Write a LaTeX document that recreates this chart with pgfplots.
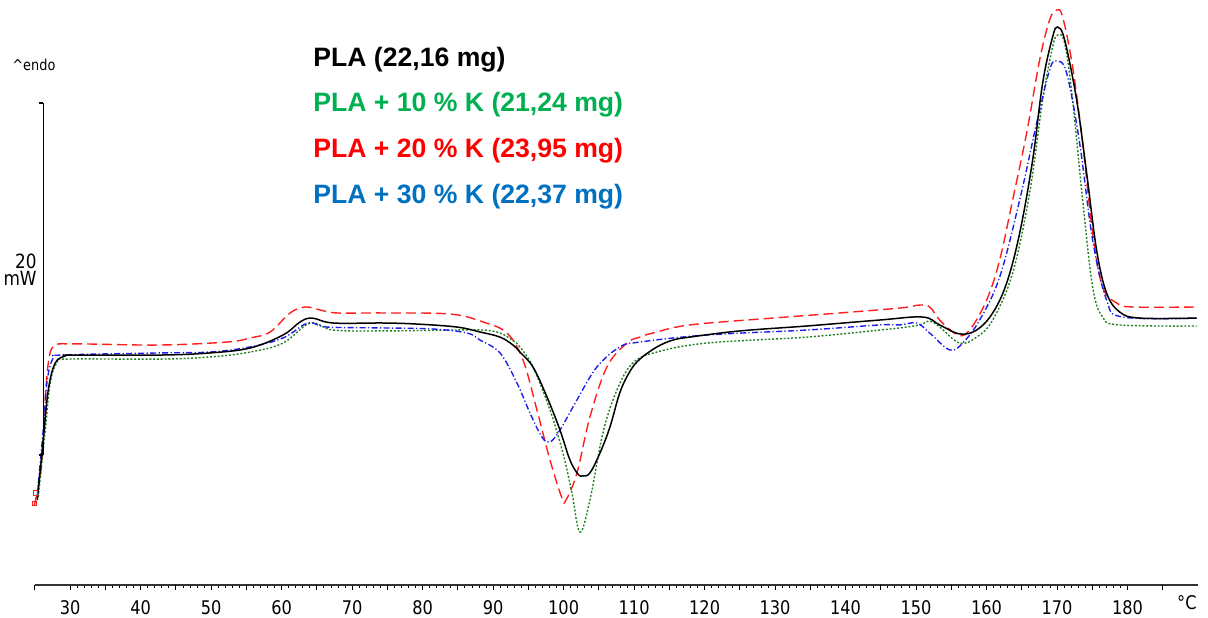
\documentclass[border=0pt]{standalone}
\usepackage{pgfplots}
\pgfplotsset{compat=1.18}
\usepackage{fontspec}
\setmainfont{Liberation Sans}
\newfontfamily\tickfont{DejaVu Sans}[FakeStretch=0.86]
\definecolor{cgreen}{RGB}{34,128,34}
\definecolor{cred}{RGB}{255,30,30}
\definecolor{cblue}{RGB}{30,30,235}
\definecolor{lgreen}{RGB}{0,176,80}
\definecolor{lred}{RGB}{255,0,0}
\definecolor{lblue}{RGB}{0,112,192}
\begin{document}
\begin{tikzpicture}
\useasboundingbox (0,0) rectangle (604pt,308.5pt);
\begin{axis}[
  at={(17.5pt,16pt)}, anchor=south west,
  scale only axis, width=581.5pt, height=290pt,
  xmin=25, xmax=190, ymin=-7.386, ymax=25.568,
  axis x line*=bottom, axis y line=none,
  xtick={30,40,...,180}, minor x tick num=9,
  extra x ticks={25,35,...,185}, extra x tick labels={},
  extra x tick style={major tick length=2.6pt},
  tick align=outside,
  major tick length=2.6pt, minor tick length=1.5pt,
  every tick/.style={black, line width=0.5pt},
  x axis line style={black!80, line width=0.6pt},
  ytick=\empty,
  xticklabel style={font=\tickfont\fontsize{9.4}{11}\selectfont, yshift=-1.6pt},
  /pgf/number format/assume math mode=true,
  clip=false,
]
% red: PLA + 20 % K
\addplot[cred, line width=0.7pt, dash pattern=on 5pt off 2.5pt, smooth, tension=0.6] coordinates {
(24.90,-2.84) (25.46,-1.82) (26.03,-0.11) (26.46,3.30) (27.02,5.57) (27.87,6.25) (30.0,6.31) (32.13,6.31) (42.76,6.25) (52.26,6.42) (55.52,6.65) (58.36,6.99) (61.19,8.07) (63.32,8.41) (65.45,8.24) (67.86,8.07) (74.38,8.07) (83.88,8.01) (88.56,7.56) (91.96,6.93) (94.23,5.40) (96.21,2.56) (98.06,-0.28) (99.76,-2.44) (100.33,-2.56) (101.89,-1.02) (103.73,2.16) (106.14,5.00) (108.97,6.36) (110.82,6.70) (112.66,6.93) (117.91,7.39) (129.67,7.78) (139.17,8.07) (147.68,8.35) (150.52,8.52) (151.94,8.41) (153.35,7.67) (155.91,6.82) (157.60,7.10) (160.02,8.81) (161.86,11.08) (163.70,14.49) (165.69,18.30) (167.53,22.44) (168.95,24.72) (169.94,25.28) (170.79,24.89) (172.21,22.05) (173.63,17.73) (175.05,12.61) (176.46,9.55) (178.45,8.64) (180.72,8.41) (189.79,8.41)
};
\addplot[cred, only marks, mark=square, mark size=1.1pt, line width=0.5pt] coordinates {(24.95,-2.75) (25.05,-2.15)};
% green: PLA + 10 % K
\addplot[cgreen, line width=0.7pt, dash pattern=on 1pt off 0.9pt, smooth, tension=0.6] coordinates {
(25.46,-2.39) (26.46,1.42) (27.16,4.09) (28.16,5.28) (29.72,5.45) (42.76,5.45) (49.85,5.57) (55.52,5.85) (60.20,6.36) (64.03,7.50) (67.29,7.10) (74.38,7.05) (83.88,7.10) (88.56,7.10) (90.97,6.93) (92.81,6.50) (93.80,6.14) (95.65,5.00) (98.06,2.56) (99.90,0.11) (101.18,-2.16) (102.31,-4.38) (103.73,-2.56) (105.57,1.25) (107.56,3.69) (109.82,5.23) (113.23,5.85) (120.32,6.36) (134.50,6.70) (144.85,7.10) (147.68,7.22) (150.52,7.39) (151.94,7.61) (153.35,7.27) (156.19,6.36) (158.60,6.70) (160.87,7.67) (163.70,10.34) (166.11,14.89) (167.96,20.17) (169.37,23.18) (170.08,23.86) (171.08,23.41) (172.21,20.17) (173.63,14.49) (175.05,9.55) (176.46,7.84) (178.87,7.39) (189.79,7.33)
};
% blue: PLA + 30 % K
\addplot[cblue, line width=0.7pt, dash pattern=on 3pt off 1.2pt on 0.6pt off 1.2pt, smooth, tension=0.6] coordinates {
(25.32,-2.27) (26.17,1.42) (26.74,4.26) (27.59,5.51) (28.87,5.68) (42.76,5.80) (49.85,5.85) (55.52,6.14) (60.20,6.65) (63.74,7.50) (66.44,7.27) (74.38,7.22) (81.47,7.16) (86.29,6.93) (88.13,6.53) (90.97,5.80) (93.38,4.09) (95.22,2.39) (96.92,1.02) (98.06,0.74) (99.48,1.42) (101.89,3.13) (104.72,5.00) (107.98,6.14) (110.82,6.42) (120.32,6.82) (134.50,7.10) (144.85,7.39) (147.68,7.39) (150.09,7.50) (151.94,6.93) (154.77,5.97) (156.61,6.36) (159.02,7.67) (161.86,10.11) (164.70,14.49) (167.11,18.86) (168.95,21.88) (169.94,22.39) (171.36,21.70) (173.20,17.73) (175.05,12.22) (177.03,8.81) (179.30,7.84) (189.79,7.78)
};
% black: PLA
\addplot[black, line width=0.75pt, smooth, tension=0.6] coordinates {
(25.32,-2.56) (26.17,0.85) (26.88,3.69) (27.87,5.23) (29.29,5.63) (30,5.68) (42.76,5.68) (49.85,5.80) (55.52,6.08) (60.20,6.82) (62.61,7.56) (64.31,7.78) (67.29,7.50) (74.38,7.50) (79.20,7.44) (84.87,7.27) (88.13,6.99) (90.97,6.70) (92.81,6.25) (93.80,5.85) (95.65,5.00) (97.63,3.30) (99.48,1.42) (100.89,-0.28) (102.03,-1.08) (102.74,-1.19) (103.73,-1.02) (105.15,0.11) (106.57,1.59) (107.98,3.55) (109.40,4.75) (110.82,5.45) (113.23,6.14) (115.50,6.53) (117.91,6.70) (125.00,7.05) (134.50,7.33) (144.85,7.67) (150.94,7.84) (153.35,7.39) (156.19,6.88) (158.60,7.10) (160.87,8.07) (162.85,9.77) (164.70,12.61) (166.54,16.76) (167.96,21.14) (169.37,23.75) (170.08,24.32) (171.08,23.58) (172.78,20.17) (174.20,16.02) (175.61,11.65) (177.03,9.20) (178.87,8.13) (181.71,7.78) (189.79,7.78)
};
% scale bar (20 mW)
\draw[black, line width=0.6pt] (axis cs:26.17,0) -- (axis cs:26.17,20);
\draw[black, line width=0.6pt] (axis cs:26.17,20) -- ([xshift=-2.2pt]axis cs:26.17,20);
\draw[black, line width=0.6pt] (axis cs:26.17,0) -- ([xshift=-2.2pt]axis cs:26.17,0);
\end{axis}
% annotations
\node[anchor=base east, inner sep=0, font=\tickfont\fontsize{9.4}{11}\selectfont] at (598.5pt,4pt) {°C};
\node[anchor=base west, inner sep=0, font=\tickfont\fontsize{7.5}{9}\selectfont] at (6pt,273pt) {\^{}endo};
\node[anchor=base east, inner sep=0, font=\tickfont\fontsize{9.8}{11}\selectfont] at (18.5pt,174.5pt) {20};
\node[anchor=base east, inner sep=0, font=\tickfont\fontsize{9.8}{11}\selectfont] at (18.5pt,166pt) {mW};
\begin{scope}[every node/.style={anchor=base west, inner sep=0, font=\bfseries\fontsize{13.3}{16}\selectfont}]
\node[text=black]  at (156.5pt,275pt)   {PLA (22,16 mg)};
\node[text=lgreen] at (156.5pt,252.5pt) {PLA + 10 \% K (21,24 mg)};
\node[text=lred]   at (156.5pt,229.5pt) {PLA + 20 \% K (23,95 mg)};
\node[text=lblue]  at (156.5pt,207pt)   {PLA + 30 \% K (22,37 mg)};
\end{scope}
\end{tikzpicture}
\end{document}
